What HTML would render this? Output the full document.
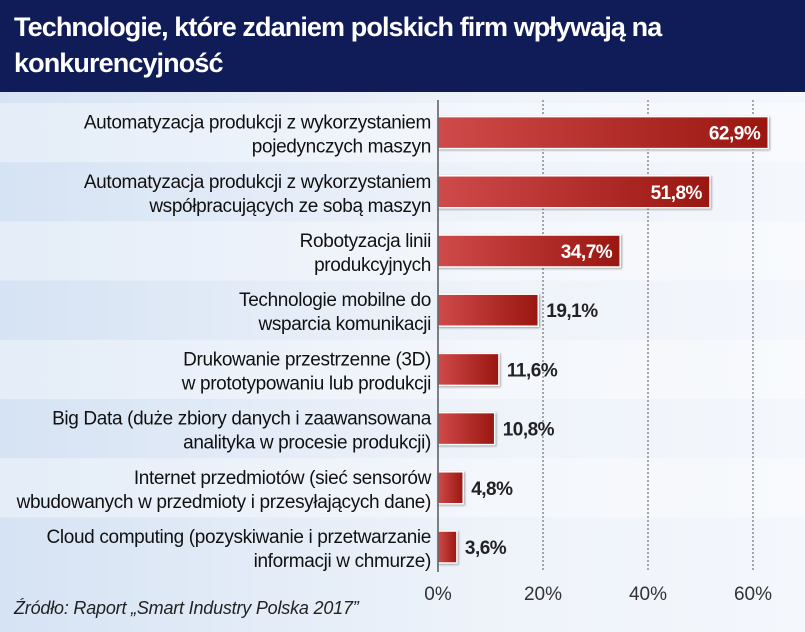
<!DOCTYPE html>
<html><head><meta charset="utf-8"><style>
body{margin:0;width:805px;height:632px;overflow:hidden;font-family:"Liberation Sans",sans-serif;background:linear-gradient(90deg,#d6e3f4,#eef3fa 60%,#f4f7fc);}
#hdr{position:absolute;left:0;top:0;width:805px;height:92px;background:#0f1c57;}
#hdr div{position:absolute;left:14px;top:9px;color:#fff;font:bold 27px/36px "Liberation Sans",sans-serif;letter-spacing:-0.9px;}
#src{position:absolute;left:14px;top:598px;font-style:italic;font-size:18px;color:#222;letter-spacing:-0.2px;}
</style></head><body>
<div id="hdr"><div>Technologie, które zdaniem polskich firm wpływają na<br>konkurencyjność</div></div>
<svg id="c" width="805" height="632" style="position:absolute;left:0;top:0">
<defs><linearGradient id="g" x1="0" x2="1"><stop offset="0" stop-color="#cf4a4a"/><stop offset="1" stop-color="#9a1610"/></linearGradient></defs>
</svg>
<div id="src">Źródło: Raport „Smart Industry Polska 2017”</div>
<script>
const labels1=["Automatyzacja produkcji z wykorzystaniem","Automatyzacja produkcji z wykorzystaniem","Robotyzacja linii","Technologie mobilne do","Drukowanie przestrzenne (3D)","Big Data (duże zbiory danych i zaawansowana","Internet przedmiotów (sieć sensorów","Cloud computing (pozyskiwanie i przetwarzanie"];
const labels2=["pojedynczych maszyn","współpracujących ze sobą maszyn","produkcyjnych","wsparcia komunikacji","w prototypowaniu lub produkcji","analityka w procesie produkcji)","wbudowanych w przedmioty i przesyłających dane)","informacji w chmurze)"];
const values=[62.9,51.8,34.7,19.1,11.6,10.8,4.8,3.6];
const ticks=[0,20,40,60];
const svg=document.getElementById('c');const NS="http://www.w3.org/2000/svg";
const x=v=>438+v*5.25;const rowTop=i=>103+i*59.2;const RH=59.2;
function mk(t,a,p){const e=document.createElementNS(NS,t);for(const k in a)e.setAttribute(k,a[k]);(p||svg).appendChild(e);return e;}
values.forEach((v,i)=>{if(i%2===0){const b=mk('rect',{x:0,y:rowTop(i),width:805,height:RH,fill:'#ffffff','fill-opacity':0.35});

}});
ticks.forEach(t=>{if(t>0){const l=mk('line',{x1:x(t),x2:x(t),y1:100,y2:572,stroke:'#555','stroke-dasharray':'2,2','stroke-width':1});

}
const tx=mk('text',{x:x(t),y:600,'text-anchor':'middle','font-size':19,fill:'#333'});tx.textContent=t+'%';

});
values.forEach((v,i)=>{const cy=rowTop(i)+RH/2;
const r=mk('rect',{x:x(0),y:cy-16,width:x(v)-x(0),height:32,fill:'url(#g)',stroke:'#fff','stroke-width':1.5,style:'filter:drop-shadow(1px 1px 1px rgba(0,0,0,.35))'});


const inside=v>30;const t=mk('text',{x:inside?x(v)-8:x(v)+8,y:cy+7,'text-anchor':inside?'end':'start','font-size':19,'font-weight':'bold','letter-spacing':-0.5,fill:inside?'#fff':'#222'});
t.textContent=v.toFixed(1).replace('.',',')+'%';


[labels1[i],labels2[i]].forEach((s,j)=>{const l=mk('text',{x:431,y:cy-4+j*24,'text-anchor':'end','font-size':19,'letter-spacing':-0.35,fill:'#111'});l.textContent=s;

});});
const ax=mk('line',{x1:x(0),x2:x(0),y1:100,y2:572,stroke:'#333','stroke-width':1.2});


</script>
</body></html>
